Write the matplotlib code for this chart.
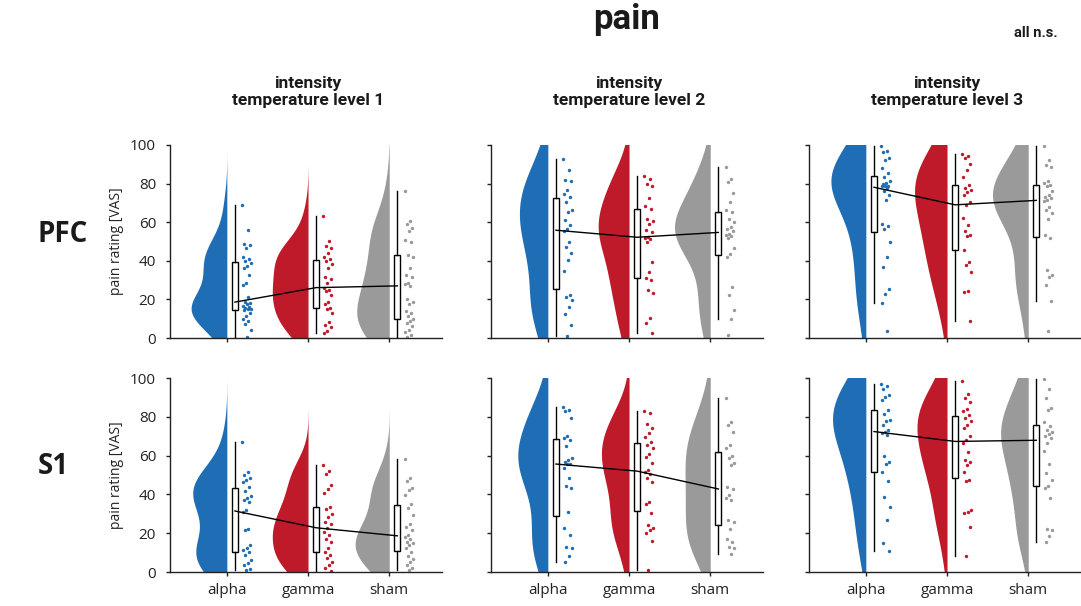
import numpy as np
import matplotlib.pyplot as plt
from matplotlib.transforms import blended_transform_factory

plt.rcParams['font.family'] = ['Open Sans', 'DejaVu Sans']
narrow = ['Roboto', 'DejaVu Sans']

groups = ['alpha', 'gamma', 'sham']
colors = ['#1f6db4', '#be1a2a', '#9a9a9a']
regions = ['PFC', 'S1']
levels = ['intensity\ntemperature level 1',
          'intensity\ntemperature level 2',
          'intensity\ntemperature level 3']

# pain ratings (VAS) per subject, PFC stimulation
pfc1_alpha = [68.7, 56.2, 48.8, 48.1, 46.7, 41.9, 41.1, 39.9, 38.8, 37.1, 36.4, 32.6, 28.7, 27.5, 21.0, 18.6,
              17.9, 17.5, 16.7, 16.2, 15.8, 15.0, 14.8, 14.4, 13.2, 11.5, 9.8, 8.6, 7.2, 4.1, 0.7]
pfc1_gamma = [63.1, 50.2, 47.6, 46.4, 44.2, 41.9, 41.1, 39.9, 38.5, 36.4, 31.6, 30.4, 28.7, 26.1, 25.1, 24.1,
              22.3, 18.4, 17.5, 15.8, 14.9, 13.2, 8.1, 6.9, 5.5, 3.8, 2.6]
pfc1_sham = [76.3, 60.5, 59.1, 57.0, 55.3, 51.0, 49.8, 43.0, 41.9, 36.4, 32.6, 31.6, 28.5, 27.8, 27.0, 20.1,
             18.9, 17.5, 14.1, 12.7, 11.5, 9.8, 8.6, 7.6, 6.4, 4.1, 2.9, 1.7, 0.7]
pfc2_alpha = [92.8, 86.8, 82.1, 81.1, 76.5, 74.7, 73.0, 70.4, 66.2, 65.3, 61.0, 58.4, 56.4, 55.3, 49.8, 47.3,
              43.8, 40.4, 34.7, 22.3, 21.5, 19.8, 16.3, 12.4, 6.5, 0.9]
pfc2_gamma = [83.7, 82.5, 79.9, 79.0, 72.5, 68.4, 66.7, 61.5, 60.5, 59.3, 55.8, 55.0, 52.2, 51.9, 51.2, 49.8,
              39.2, 34.4, 31.3, 30.1, 24.9, 23.2, 10.3, 7.7, 2.6]
pfc2_sham = [88.5, 82.5, 80.8, 75.1, 70.4, 66.2, 65.3, 61.5, 60.1, 57.5, 56.7, 55.3, 54.1, 53.5, 52.9, 51.9,
             46.7, 43.3, 42.1, 26.6, 22.3, 14.6, 10.0, 1.4]
pfc3_alpha = [99.6, 96.9, 96.2, 93.4, 92.2, 88.3, 85.4, 83.2, 81.1, 80.5, 79.7, 79.0, 78.9, 78.5, 77.7, 76.3,
              73.9, 71.7, 59.1, 57.9, 56.7, 49.7, 41.9, 36.8, 25.6, 23.0, 17.9, 3.4]
pfc3_gamma = [95.5, 94.3, 93.4, 90.3, 86.9, 83.4, 79.3, 77.7, 76.7, 75.9, 74.1, 70.7, 69.0, 62.1, 58.6, 55.5,
              53.4, 52.6, 45.7, 39.3, 37.9, 34.1, 24.5, 23.8, 8.6]
pfc3_sham = [99.6, 92.2, 89.6, 88.8, 81.1, 80.2, 79.5, 78.6, 76.3, 74.0, 73.0, 72.6, 71.7, 70.9, 67.8, 66.1,
             64.8, 61.4, 53.4, 51.7, 35.4, 32.8, 31.4, 27.6, 19.3, 3.4]

# pain ratings (VAS) per subject, S1 stimulation
s1_1_alpha = [67.2, 51.4, 50.0, 48.6, 47.4, 46.2, 44.0, 41.7, 39.3, 38.3, 37.1, 36.2, 31.9, 31.0, 22.4, 21.6,
              14.1, 12.4, 11.2, 10.3, 8.6, 6.0, 4.8, 3.4, 1.7, 0.9]
s1_1_gamma = [55.2, 52.1, 50.3, 44.8, 42.8, 40.5, 33.6, 32.4, 29.7, 28.4, 25.9, 24.5, 22.8, 20.7, 19.3, 17.2,
              15.5, 12.5, 10.3, 9.0, 7.0, 5.2, 3.4, 2.1, 0.3]
s1_1_sham = [58.1, 48.3, 46.9, 43.4, 42.2, 39.7, 34.8, 32.8, 29.3, 25.0, 23.3, 21.6, 19.3, 18.0, 17.2, 15.5,
             14.7, 13.8, 12.4, 10.3, 8.3, 6.9, 5.2, 3.4, 2.1, 0.9]
s1_2_alpha = [84.8, 83.6, 82.8, 79.3, 70.3, 69.3, 68.1, 64.7, 59.0, 57.5, 56.9, 55.8, 55.5, 53.4, 48.3, 44.5,
              43.1, 31.0, 22.8, 19.0, 12.9, 12.4, 8.3, 5.2]
s1_2_gamma = [82.8, 81.9, 76.2, 74.1, 71.6, 69.8, 66.9, 65.5, 63.8, 60.7, 59.5, 56.0, 52.6, 51.4, 50.3, 48.3,
              46.6, 35.9, 34.8, 30.2, 24.1, 22.8, 21.6, 20.3, 15.9, 0.9]
s1_2_sham = [89.7, 77.2, 75.9, 72.4, 65.5, 64.1, 60.0, 59.0, 56.0, 55.2, 44.0, 42.8, 39.7, 38.3, 37.1, 26.7,
             25.9, 22.4, 17.2, 15.5, 12.9, 12.4, 9.5]
s1_3_alpha = [96.9, 95.7, 94.5, 91.4, 90.0, 88.8, 83.6, 81.4, 78.4, 77.6, 75.9, 73.3, 72.4, 71.6, 70.7, 60.0,
              56.9, 55.5, 51.4, 46.9, 38.8, 33.6, 26.7, 14.7, 10.7]
s1_3_gamma = [98.6, 91.7, 89.7, 87.6, 84.1, 82.8, 81.0, 79.3, 77.6, 75.9, 74.1, 70.0, 68.1, 66.5, 61.7, 57.8,
              56.6, 55.2, 51.7, 47.4, 46.9, 31.9, 30.7, 30.2, 23.3, 8.3]
s1_3_sham = [99.7, 94.5, 89.7, 84.5, 83.6, 77.2, 75.5, 73.3, 72.0, 71.0, 70.3, 69.3, 66.5, 62.4, 55.5, 50.9,
             47.4, 44.5, 43.4, 38.3, 22.4, 21.6, 18.6, 15.5]

data = {
    'PFC': [[pfc1_alpha, pfc1_gamma, pfc1_sham],
            [pfc2_alpha, pfc2_gamma, pfc2_sham],
            [pfc3_alpha, pfc3_gamma, pfc3_sham]],
    'S1': [[s1_1_alpha, s1_1_gamma, s1_1_sham],
           [s1_2_alpha, s1_2_gamma, s1_2_sham],
           [s1_3_alpha, s1_3_gamma, s1_3_sham]],
}

# half-width of each cloud at its peak, in category units
cloud_width = {
    'PFC': [[0.44, 0.44, 0.40], [0.35, 0.38, 0.44], [0.43, 0.40, 0.44]],
    'S1': [[0.42, 0.44, 0.42], [0.37, 0.34, 0.31], [0.41, 0.37, 0.34]],
}


def kde(x):
    x = np.asarray(x, float)
    n = len(x)
    bw = 1.06 * x.std(ddof=1) * n ** -0.2
    grid = np.linspace(x.min() - 3 * bw, x.max() + 3 * bw, 300)
    z = (grid[:, None] - x[None, :]) / bw
    dens = np.exp(-0.5 * z ** 2).sum(1) / (n * bw * np.sqrt(2 * np.pi))
    return grid, dens


fig = plt.figure(figsize=(10.81, 6.06), dpi=100)
W, H = 1081, 606
col_left = [170, 491, 809]
row_span = [(145, 338), (378, 572)]
ax_w = 272

for ri, reg in enumerate(regions):
    top, bot = row_span[ri]
    for ci in range(3):
        ax = fig.add_axes([col_left[ci] / W, 1 - bot / H, ax_w / W, (bot - top) / H])
        meds = []
        for gi, vals in enumerate(data[reg][ci]):
            pos = gi + 1
            grid, dens = kde(vals)
            inside = (grid >= 0) & (grid <= 100)
            peak = dens[inside].max()
            half = dens / peak * cloud_width[reg][ci][gi]
            ax.fill_betweenx(grid, pos - half, pos, color=colors[gi], lw=0, zorder=1)
            ax.boxplot([vals], positions=[pos + 0.1], widths=0.075, whis=1.5,
                       showfliers=False, showcaps=False, patch_artist=True, manage_ticks=False,
                       boxprops=dict(facecolor='white', edgecolor='black', lw=1.0),
                       whiskerprops=dict(color='black', lw=1.0),
                       medianprops=dict(visible=False), zorder=3)
            n = len(vals)
            jit = 0.19 + 0.11 * ((np.arange(n) * 0.618034) % 1)
            ax.scatter(pos + jit, vals, s=6, color=colors[gi], lw=0, zorder=2)
            meds.append(np.median(vals))
        ax.plot(np.arange(1, 4) + 0.1, meds, color='black', lw=1.0, zorder=4)

        ax.set_xlim(0.3, 3.65)
        ax.set_ylim(0, 100)
        ax.set_yticks(np.arange(0, 101, 20))
        ax.set_xticks([1, 2, 3])
        for s in ('top', 'right'):
            ax.spines[s].set_visible(False)
        for s in ('left', 'bottom'):
            ax.spines[s].set_color('#222222')
            ax.spines[s].set_linewidth(1.0)
        ax.tick_params(direction='out', length=3, width=1.0, color='#222222',
                       labelsize=11, labelcolor='#222222')
        ax.tick_params(axis='y', pad=7)
        if ri == 1:
            ax.set_xticklabels(groups)
            ax.tick_params(axis='x', pad=5)
        else:
            ax.set_xticklabels([])
            tr = blended_transform_factory(ax.transData, ax.transAxes)
            ax.text(2, 1.275, levels[ci], transform=tr, ha='center', va='center',
                    fontsize=12.5, fontweight='bold', family=narrow, linespacing=1.1,
                    color='#1a1a1a')
        if ci != 0:
            ax.set_yticklabels([])
        else:
            fig.text(117 / W, 1 - (top + bot) / 2 / H, 'pain rating [VAS]', rotation=90,
                     ha='center', va='center', fontsize=10, color='#222222')

    fig.text(38 / W, 1 - (235 if ri == 0 else 467) / H, reg, ha='left', va='center',
             fontsize=20, fontweight='bold', color='#1a1a1a')

fig.text(627 / W, 1 - 19 / H, 'pain', ha='center', va='center', fontsize=25,
         fontweight='bold', family=narrow, color='#1a1a1a')
fig.text(1036 / W, 1 - 33 / H, 'all n.s.', ha='center', va='center', fontsize=10.5,
         fontweight='bold', family=narrow, color='#1a1a1a')

fig.savefig('out.png', dpi=100)
